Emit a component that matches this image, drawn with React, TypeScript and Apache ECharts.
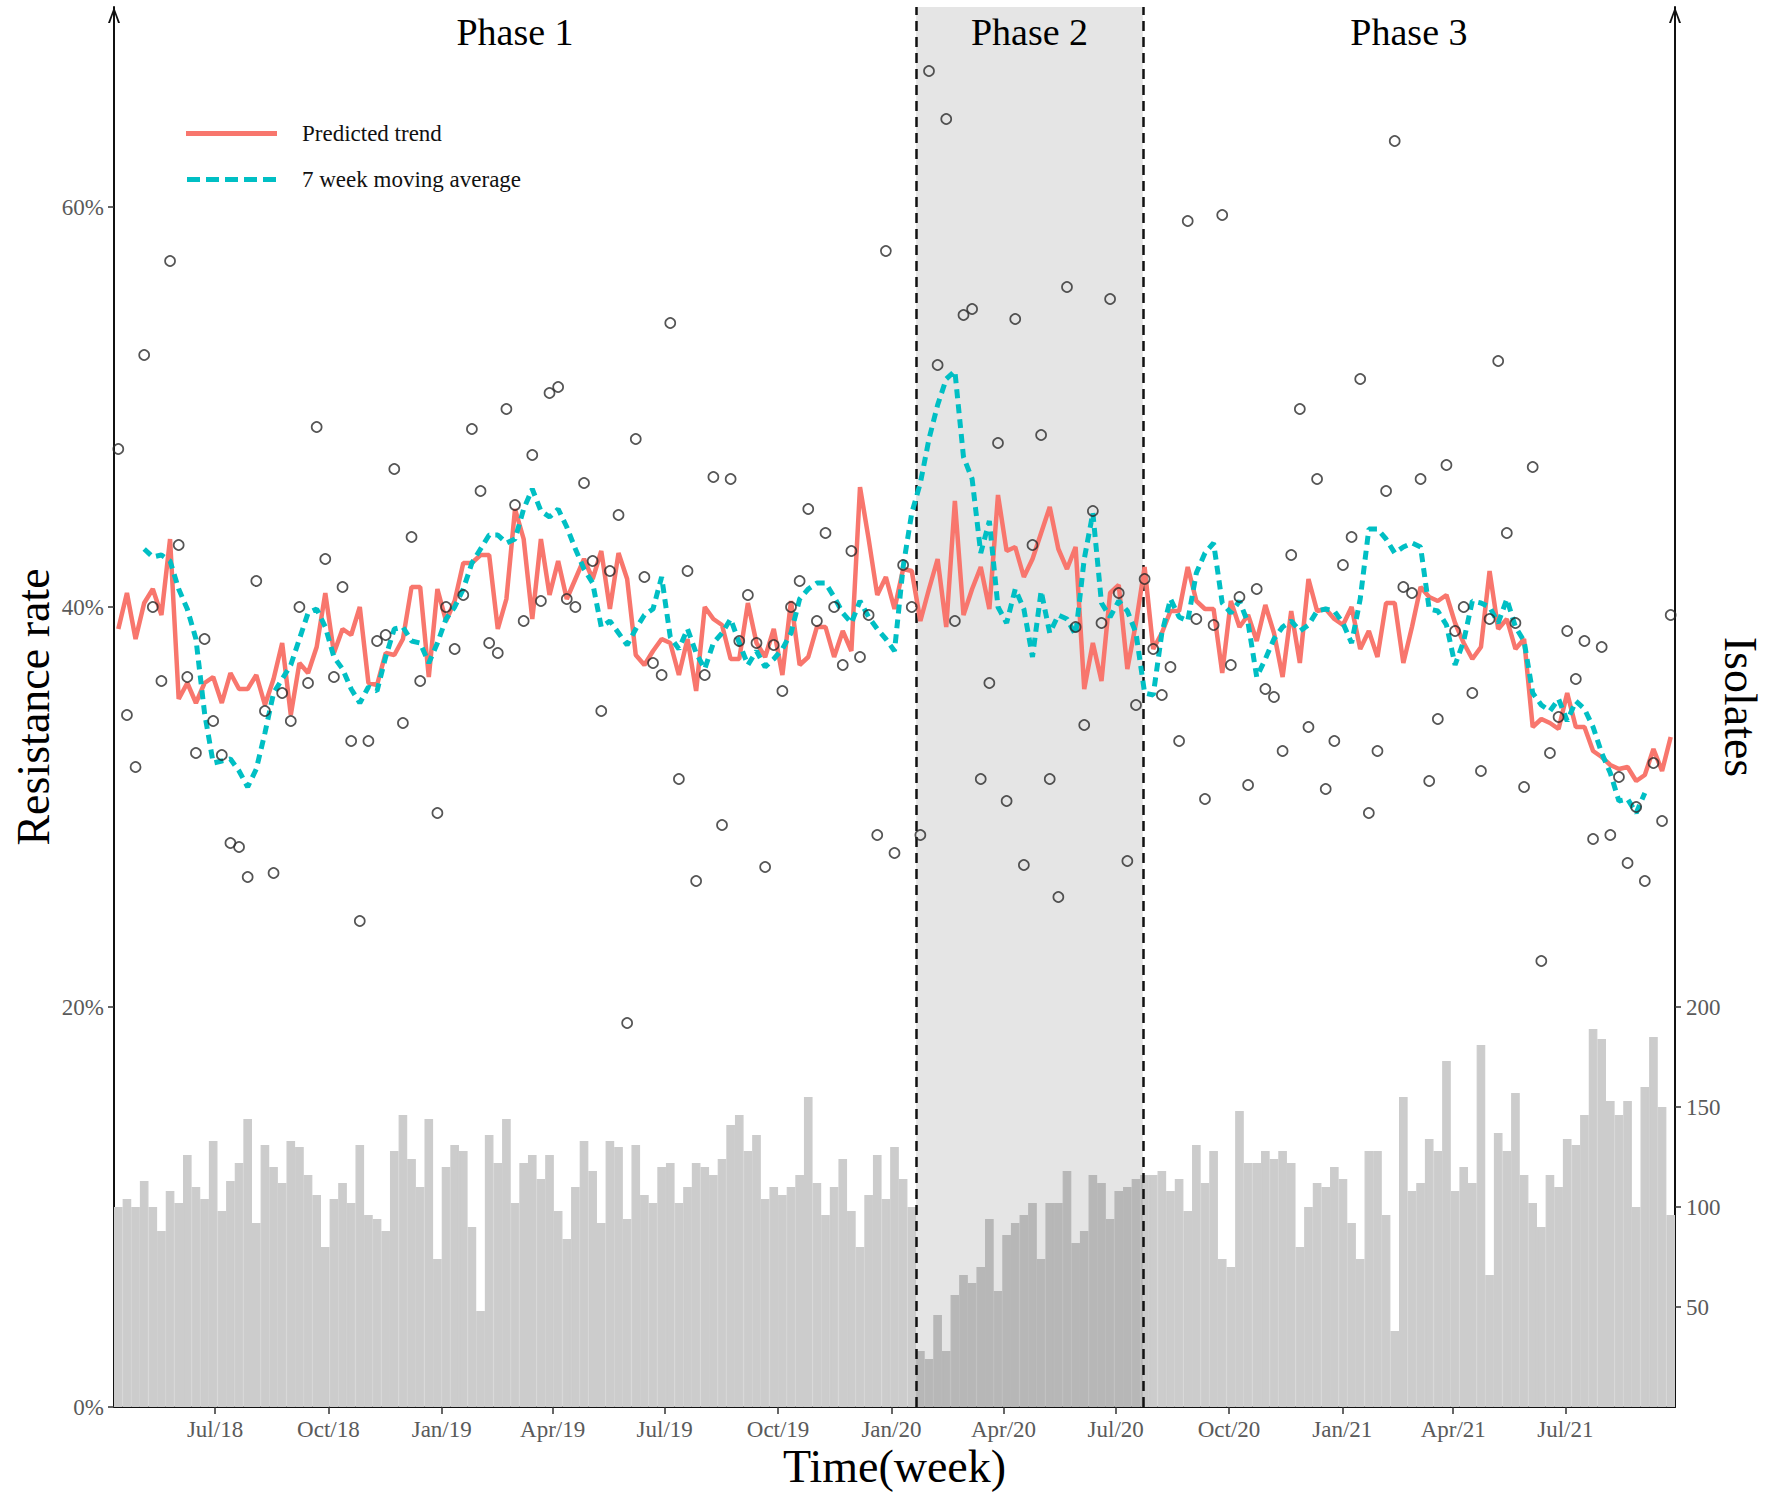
import React, { useEffect, useRef } from "react";
import * as echarts from "echarts";

// ---------- data ----------
const START_DATE = "2018-04-10"; // start of week 0
const WEEK_COUNT = 181;

const tickDates = [
  "2018-07-01", "2018-10-01", "2019-01-01", "2019-04-01", "2019-07-01", "2019-10-01",
  "2020-01-01", "2020-04-01", "2020-07-01", "2020-10-01", "2021-01-01", "2021-04-01", "2021-07-01",
];
const tickLabels = [
  "Jul/18", "Oct/18", "Jan/19", "Apr/19", "Jul/19", "Oct/19",
  "Jan/20", "Apr/20", "Jul/20", "Oct/20", "Jan/21", "Apr/21", "Jul/21",
];

const phaseNames = ["Phase 1", "Phase 2", "Phase 3"];
const phaseStarts = [0, 93, 119.3]; // week position where each phase starts

const leftTicks = [0, 20, 40, 60];
const rightTicks = [50, 100, 150, 200];

// weekly number of isolates (bars, right axis)
const isolates = [
  100, 104, 100, 113, 100, 88, 108, 102, 126, 110, 104, 133, 98, 113, 122, 144, 92, 131, 120, 112,
  133, 130, 116, 106, 80, 104, 112, 102, 131, 96, 94, 88, 128, 146, 124, 110, 144, 74, 120, 131,
  128, 90, 48, 136, 122, 144, 102,
  122, 126, 114, 126, 98, 84, 110, 133, 118, 92, 133, 130, 94, 131, 106, 102, 120, 122, 102, 110,
  122, 120, 116, 124, 141, 146, 128, 136, 104, 110, 106, 110, 116, 155, 112, 96, 110, 124, 98, 80,
  106, 126, 104, 130, 114, 100,
  28, 24, 46, 28, 56, 66, 62, 70, 94, 58, 86, 92, 96, 102, 74, 102, 102, 118, 82, 88, 116, 112, 94,
  108, 110, 114,
  116, 116, 118, 108, 114, 98, 131, 112, 128, 74, 70, 148, 122, 122, 128, 124, 128, 122, 80, 100, 112,
  110, 120, 114, 92, 74, 128, 128, 96, 38, 155, 108, 112, 134, 128, 173, 108, 120, 112, 181, 66,
  137, 128, 157, 116, 102, 90, 116, 110, 134, 131, 146, 189, 184, 153, 146, 153, 100, 160, 185, 150, 96,
];

// weekly observed resistance rate (%), circles
const observed: (number | null)[] = [
  47.9, 34.6, 32.0, 52.6, 40.0, 36.3, 57.3, 43.1, 36.5, 32.7,
  38.4, 34.3, 32.6, 28.2, 28.0, 26.5, 41.3, 34.8, 26.7, 35.7,
  34.3, 40.0, 36.2, 49.0, 42.4, 36.5, 41.0, 33.3, 24.3, 33.3,
  38.3, 38.6, 46.9, 34.2, 43.5, 36.3, null, 29.7, 40.0, 37.9,
  40.6, 48.9, 45.8, 38.2, 37.7, 49.9, 45.1, 39.3, 47.6, 40.3,
  50.7, 51.0, 40.4, 40.0, 46.2, 42.3, 34.8, 41.8, 44.6, 19.2,
  48.4, 41.5, 37.2, 36.6, 54.2, 31.4, 41.8, 26.3, 36.6, 46.5,
  29.1, 46.4, 38.3, 40.6, 38.2, 27.0, 38.1, 35.8, 40.0, 41.3,
  44.9, 39.3, 43.7, 40.0, 37.1, 42.8, 37.5, 39.6, 28.6, 57.8,
  27.7, 42.1, 40.0, 28.6, 66.8, 52.1, 64.4, 39.3, 54.6, 54.9,
  31.4, 36.2, 48.2, 30.3, 54.4, 27.1, 43.1, 48.6, 31.4, 25.5,
  56.0, 39.0, 34.1, 44.8, 39.2, 55.4, 40.7, 27.3, 35.1, 41.4,
  37.9, 35.6, 37.0, 33.3, 59.3, 39.4, 30.4, 39.1, 59.6, 37.1,
  40.5, 31.1, 40.9, 35.9, 35.5, 32.8, 42.6, 49.9, 34.0, 46.4,
  30.9, 33.3, 42.1, 43.5, 51.4, 29.7, 32.8, 45.8, 63.3, 41.0,
  40.7, 46.4, 31.3, 34.4, 47.1, 38.8, 40.0, 35.7, 31.8, 39.4,
  52.3, 43.7, 39.2, 31.0, 47.0, 22.3, 32.7, 34.5, 38.8, 36.4,
  38.3, 28.4, 38.0, 28.6, 31.5, 27.2, 30.0, 26.3, 32.2, 29.3, 39.6,
];

// predicted trend (%)
const trend = [
  38.9, 40.7, 38.4, 40.2, 40.9, 39.6, 43.4, 35.4, 36.2, 35.2,
  36.2, 36.5, 35.2, 36.7, 35.9, 35.9, 36.6, 35.1, 36.4, 38.2,
  34.6, 37.2, 36.7, 38.0, 40.7, 37.7, 38.9, 38.6, 40.0, 36.2,
  36.1, 37.7, 37.6, 38.4, 41.0, 41.0, 36.5, 40.9, 39.3, 40.3,
  42.2, 42.2, 42.6, 42.6, 38.9, 40.4, 44.9, 43.4, 39.4, 43.4,
  40.6, 42.3, 40.4, 41.4, 42.4, 41.4, 42.8, 39.9, 42.7, 41.4,
  37.6, 37.1, 37.8, 38.4, 38.2, 36.6, 38.4, 35.8, 40.0, 39.4,
  39.1, 37.4, 37.4, 40.2, 38.2, 37.5, 38.9, 36.6, 40.3, 37.1,
  37.5, 39.0, 39.0, 37.5, 38.8, 37.8, 46.0, 43.4, 40.6, 41.5,
  39.9, 41.9, 41.8, 39.3, 40.9, 42.4, 39.0, 45.3, 39.6, 40.9,
  42.0, 39.9, 45.6, 42.8, 43.0, 41.5, 42.4, 43.7, 45.0, 42.9,
  41.9, 43.0, 35.9, 38.2, 36.3, 40.7, 41.1, 36.9, 39.2, 42.0,
  37.9, 38.7, 39.8, 39.8, 42.0, 40.3, 39.9, 39.9, 36.7, 40.3,
  39.0, 39.6, 38.3, 40.1, 38.7, 36.5, 39.8, 37.2, 41.4, 39.8,
  39.9, 39.4, 39.1, 40.0, 37.9, 38.8, 37.5, 40.2, 40.2, 37.2,
  39.0, 41.0, 40.5, 40.3, 40.6, 39.2, 38.2, 37.4, 38.0, 41.8,
  38.9, 39.4, 37.9, 38.4, 34.0, 34.4, 34.2, 33.9, 35.7, 34.0,
  34.0, 32.8, 32.5, 32.1, 31.9, 32.0, 31.3, 31.6, 32.9, 31.8, 33.5,
];

// 7 week moving average (%), starting at week 3
const MA_START = 3;
const movingAvg = [
  42.9, 42.5, 42.6, 42.3, 40.9, 39.9, 38.4,
  34.7, 32.2, 32.3, 32.4, 31.8, 31.0, 31.9, 33.7, 35.7, 36.4,
  37.1, 38.4, 39.7, 39.9, 39.0, 37.5, 36.9, 35.9, 35.2, 36.0,
  35.8, 37.5, 38.9, 39.0, 38.3, 38.2, 37.2, 38.2, 39.4, 40.0,
  40.9, 42.2, 42.9, 43.6, 43.6, 43.2, 43.4, 44.9, 45.9, 44.8,
  44.5, 44.9, 44.0, 42.9, 41.9, 41.2, 39.0, 39.3, 38.7, 38.1,
  38.9, 39.6, 39.9, 41.5, 38.5, 37.9, 38.9, 37.7, 36.9, 38.2,
  38.7, 39.4, 38.2, 37.1, 37.8, 37.0, 37.4, 37.9, 38.7, 40.4,
  40.9, 41.2, 41.2, 40.5, 39.7, 39.2, 40.3, 39.5, 38.9, 38.4,
  37.8, 42.0, 44.7, 46.2, 48.4, 50.1, 51.4, 51.8, 47.5, 46.4,
  42.7, 44.3, 40.0, 39.2, 40.9, 39.9, 37.5, 40.8, 38.7, 39.6,
  39.4, 38.6, 42.4, 44.7, 40.2, 39.5, 40.3, 39.8, 38.7, 35.7,
  35.6, 38.7, 40.4, 39.5, 39.3, 41.7, 42.7, 43.2, 40.2, 39.7,
  40.3, 39.2, 36.5, 37.4, 38.4, 39.0, 39.3, 38.8, 39.1, 39.8,
  39.9, 39.8, 39.2, 38.2, 40.4, 43.9, 43.9, 43.4, 42.7, 43.0,
  43.2, 43.0, 39.9, 39.8, 39.1, 37.1, 38.3, 40.3, 40.2, 40.0,
  39.2, 40.4, 39.0, 38.3, 35.7, 35.1, 34.8, 35.4, 34.3, 35.3,
  34.9, 34.0, 32.7, 31.7, 30.3, 30.4, 29.7, 30.7,
];

// ---------- chart ----------
const SERIF = "'Liberation Serif', 'Times New Roman', serif";
const WEEK_MS = 7 * 24 * 3600 * 1000;
const tickWeeks = tickDates.map((d) => (Date.parse(d) - Date.parse(START_DATE)) / WEEK_MS);

const chevron = "path://M6 0 L12 16 L10 16 L6 4.5 L2 16 L0 16 Z";
const solidIcon = "path://M0 0 H91 V5 H0 Z";
const dashedIcon =
  "path://M0 0 H13 V5 H0 Z M19 0 H32 V5 H19 Z M38 0 H51 V5 H38 Z M57 0 H70 V5 H57 Z M76 0 H89 V5 H76 Z";

function buildOption() {
  const barData = isolates.map((v, i) => [i + 0.5, v]);
  const pointData = observed
    .map((v, i) => (v == null ? null : [i + 0.5, v]))
    .filter((d) => d !== null);
  const trendData = trend.map((v, i) => [i + 0.5, v]);
  const maData = movingAvg.map((v, k) => [k + MA_START + 0.5, v]);

  const phaseEnds = [...phaseStarts.slice(1), WEEK_COUNT];
  const areaData = phaseNames.map((name, k) => [
    {
      name,
      xAxis: phaseStarts[k],
      itemStyle: { color: k === 1 ? "rgba(0,0,0,0.1)" : "rgba(0,0,0,0)" },
    },
    { xAxis: phaseEnds[k] },
  ]);
  const boundaryData = phaseStarts.slice(1).map((x) => ({ xAxis: x }));

  const axisLineStyle = { color: "#111", width: 2 };
  const tickStyle = { color: "#333", width: 1.5 };
  const labelStyle = { fontFamily: SERIF, fontSize: 23, color: "#5a5a5a" };
  const nameStyle = { fontFamily: SERIF, fontSize: 46, color: "#000" };

  return {
    animation: false,
    backgroundColor: "#fff",
    grid: { left: 114, right: 97, top: 7, bottom: 90, containLabel: false, outerBoundsMode: "none" },
    legend: {
      data: [
        { name: "Predicted trend", icon: solidIcon },
        { name: "7 week moving average", icon: dashedIcon },
      ],
      orient: "vertical",
      left: 186,
      top: 122,
      padding: 0,
      itemGap: 23,
      itemWidth: 91,
      itemHeight: 5,
      selectedMode: false,
      textStyle: { fontFamily: SERIF, fontSize: 23, color: "#111", lineHeight: 23, padding: [0, 0, 0, 20] },
    },
    xAxis: {
      type: "value",
      min: 0,
      max: WEEK_COUNT,
      name: "Time(week)",
      nameLocation: "middle",
      nameGap: 36,
      nameMoveOverlap: false,
      nameTextStyle: nameStyle,
      axisLine: { show: true, lineStyle: axisLineStyle },
      axisTick: { show: true, length: 7, lineStyle: tickStyle, customValues: tickWeeks },
      axisLabel: {
        show: true,
        margin: 11,
        ...labelStyle,
        customValues: tickWeeks,
        formatter: (v: number) => {
          let best = 0;
          tickWeeks.forEach((t, i) => {
            if (Math.abs(t - v) < Math.abs(tickWeeks[best] - v)) best = i;
          });
          return tickLabels[best];
        },
      },
      splitLine: { show: false },
    },
    yAxis: [
      {
        type: "value",
        position: "left",
        min: 0,
        max: 70,
        name: "Resistance rate",
        nameLocation: "middle",
        nameRotate: 90,
        nameGap: 58,
        nameMoveOverlap: false,
        nameTextStyle: nameStyle,
        axisLine: {
          show: true,
          lineStyle: axisLineStyle,
          symbol: ["none", chevron],
          symbolSize: [12, 16],
          symbolOffset: [0, -8],
        },
        axisTick: { show: true, length: 6, lineStyle: tickStyle, customValues: leftTicks },
        axisLabel: { show: true, margin: 10, ...labelStyle, customValues: leftTicks, formatter: "{value}%" },
        splitLine: { show: false },
      },
      {
        type: "value",
        position: "right",
        min: 0,
        max: 700,
        name: "Isolates",
        nameLocation: "middle",
        nameRotate: -90,
        nameGap: 42,
        nameMoveOverlap: false,
        nameTextStyle: nameStyle,
        axisLine: {
          show: true,
          lineStyle: axisLineStyle,
          symbol: ["none", chevron],
          symbolSize: [12, 16],
          symbolOffset: [0, -8],
        },
        axisTick: { show: true, length: 6, lineStyle: tickStyle, customValues: rightTicks },
        axisLabel: { show: true, margin: 11, ...labelStyle, customValues: rightTicks },
        splitLine: { show: false },
      },
    ],
    series: [
      {
        name: "Isolates",
        type: "bar",
        yAxisIndex: 1,
        z: 0,
        barWidth: "100%",
        barGap: "0%",
        data: barData,
        itemStyle: { color: "#cccccc", borderColor: "#cccccc", borderWidth: 1.2 },
        silent: true,
      },
      {
        name: "phases",
        type: "line",
        yAxisIndex: 0,
        data: [],
        silent: true,
        markArea: {
          z: 2,
          silent: true,
          label: {
            show: true,
            position: "insideTop",
            distance: 6,
            fontFamily: SERIF,
            fontSize: 38,
            color: "#000",
          },
          data: areaData,
        },
        markLine: {
          z: 3,
          silent: true,
          symbol: ["none", "none"],
          label: { show: false },
          lineStyle: { color: "#111", width: 2.5, type: [10, 6] },
          data: boundaryData,
        },
      },
      {
        name: "Predicted trend",
        type: "line",
        yAxisIndex: 0,
        z: 4,
        symbol: "none",
        data: trendData,
        lineStyle: { color: "#F8766D", width: 4.5 },
        itemStyle: { color: "#F8766D" },
        silent: true,
      },
      {
        name: "7 week moving average",
        type: "line",
        yAxisIndex: 0,
        z: 5,
        symbol: "none",
        data: maData,
        lineStyle: { color: "#00BFC4", width: 5, type: [9, 6] },
        itemStyle: { color: "#00BFC4" },
        silent: true,
      },
      {
        name: "Observed",
        type: "scatter",
        yAxisIndex: 0,
        z: 6,
        symbol: "circle",
        symbolSize: 10,
        data: pointData,
        itemStyle: { color: "rgba(0,0,0,0)", borderColor: "#2a2a2a", borderWidth: 1.7 },
        silent: true,
      },
    ],
  };
}

export default function App() {
  const ref = useRef<HTMLDivElement>(null);
  useEffect(() => {
    if (!ref.current) return;
    const chart = echarts.init(ref.current, null, { renderer: "svg" });
    chart.setOption(buildOption() as any);
    return () => chart.dispose();
  }, []);
  return (
    <div
      ref={ref}
      style={{ position: "absolute", left: 0, top: 0, width: 1772, height: 1497, background: "#fff" }}
    />
  );
}
